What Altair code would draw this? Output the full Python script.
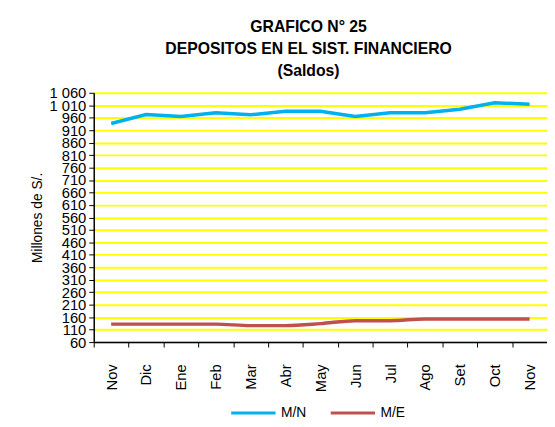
import altair as alt
import pandas as pd

months = ["Nov", "Dic", "Ene", "Feb", "Mar", "Abr", "May", "Jun", "Jul", "Ago", "Set", "Oct", "Nov"]
mn = [937, 973, 965, 980, 972, 986, 986, 965, 980, 980, 994, 1020, 1014]
me = [132, 132, 132, 132, 126, 126, 134, 146, 146, 153, 153, 153, 153]
series = ["M/N", "M/E"]
colors = ["#00B0F0", "#C0504D"]
y_ticks = list(range(60, 1061, 50))

rows = []
for i in range(len(months)):
    rows.append({"idx": i, "value": mn[i], "serie": "M/N"})
    rows.append({"idx": i, "value": me[i], "serie": "M/E"})
df = pd.DataFrame(rows)

month_arr = "[" + ",".join("'%s'" % m for m in months) + "]"
FONT = "Liberation Sans"

x_enc = alt.X(
    "idx:O",
    bandPosition=0.5,
    scale=alt.Scale(type="band", paddingInner=0, paddingOuter=0),
    axis=alt.Axis(
        title=None,
        labelExpr=month_arr + "[datum.value]",
        tickBand="extent",
        labelAngle=270,
        labelFontSize=15,
        labelPadding=17,
        labelColor="#000000",
        tickSize=5,
        tickColor="#000000",
        domainColor="#000000",
        domainWidth=1.5,
        grid=False,
    ),
)
y_enc = alt.Y(
    "value:Q",
    scale=alt.Scale(domain=[60, 1060], nice=False, zero=False),
    axis=alt.Axis(
        title="Millones de S/.",
        titleFontSize=14,
        titleFontWeight="normal",
        titleColor="#000000",
        titlePadding=4,
        values=y_ticks,
        labelExpr="datum.value >= 1000 ? '1 ' + format(datum.value - 1000, '03d') : '' + datum.value",
        labelFontSize=15,
        labelColor="#000000",
        labelOverlap=False,
        labelPadding=3,
        tickSize=5,
        tickColor="#000000",
        domainColor="#000000",
        domainWidth=1.5,
        grid=True,
        gridColor="#FFFF00",
        gridWidth=2,
    ),
)
color_enc = alt.Color(
    "serie:N",
    scale=alt.Scale(domain=series, range=colors),
    legend=alt.Legend(
        title=None,
        orient="none",
        legendX=138,
        legendY=301,
        direction="horizontal",
        symbolType="stroke",
        symbolSize=2025,
        symbolStrokeWidth=3,
        labelFontSize=14,
        labelColor="#000000",
        columnPadding=18,
    ),
)

base = alt.Chart(df).encode(x=x_enc, y=y_enc, color=color_enc)
blue = base.transform_filter("datum.serie == 'M/N'").mark_line(strokeWidth=3.5, interpolate="linear")
red = base.transform_filter("datum.serie == 'M/E'").mark_line(strokeWidth=3.5, interpolate="monotone")

chart = alt.layer(blue, red).properties(
    width=460,
    height=253,
    title=alt.TitleParams(
        text=["GRAFICO N° 25", "DEPOSITOS EN EL SIST. FINANCIERO", "(Saldos)"],
        fontSize=16,
        fontWeight="bold",
        color="#000000",
        lineHeight=22.5,
        anchor="middle",
        dx=-12,
        offset=7,
    ),
    autosize=alt.AutoSizeParams(type="none"),
    padding={"left": 87, "top": 83, "right": 0, "bottom": 75},
).configure(font=FONT).configure_view(stroke=None)

chart.save("out.html", embed_options={"renderer": "svg", "actions": False})
